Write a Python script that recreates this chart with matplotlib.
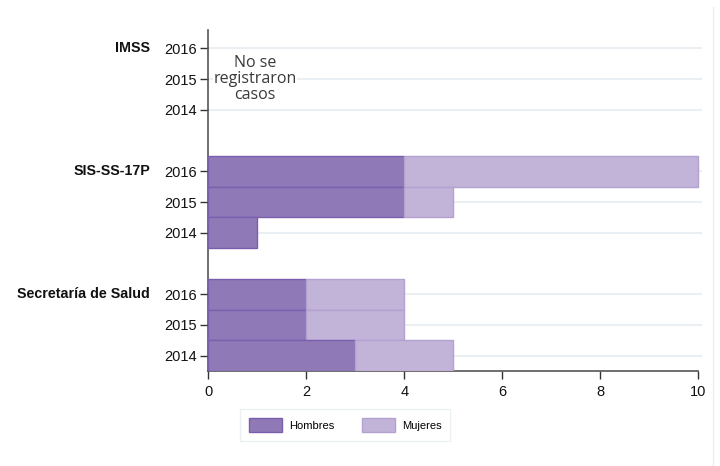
import matplotlib
matplotlib.use("Agg")
import matplotlib.pyplot as plt
from matplotlib.patches import Patch
from matplotlib.lines import Line2D
from matplotlib.transforms import blended_transform_factory

# data
groups = ['IMSS', 'SIS-SS-17P', 'Secretaría de Salud']
years = ['2016', '2015', '2014']
hombres = {'IMSS': [0, 0, 0], 'SIS-SS-17P': [4, 4, 1], 'Secretaría de Salud': [2, 2, 3]}
mujeres = {'IMSS': [0, 0, 0], 'SIS-SS-17P': [6, 1, 0], 'Secretaría de Salud': [2, 2, 2]}
empty_note = 'No se\nregistraron\ncasos'
x_ticks = [0, 2, 4, 6, 8, 10]

c_h = '#8f79b6'
c_h_edge = '#7b5faf'
c_m = '#c2b3d9'
c_m_edge = '#b3a1d1'
grid_c = '#e9eff2'

plt.rcParams['font.family'] = ['Liberation Sans', 'DejaVu Sans']

fig = plt.figure(figsize=(7.2, 4.66), dpi=100)
ax = fig.add_axes([0.2889, 0.2039, 0.686, 0.7317])
lab_tr = blended_transform_factory(fig.transFigure, ax.transData)

pos = []
labels = []
i = 0
for g in groups:
    for k, y in enumerate(years):
        h = hombres[g][k]
        m = mujeres[g][k]
        if h > 0:
            ax.barh(i, h, height=1.0, color=c_h, edgecolor=c_h_edge, linewidth=1, zorder=3)
        if m > 0:
            ax.barh(i, m, left=h, height=1.0, color=c_m, edgecolor=c_m_edge, linewidth=1, zorder=3)
        pos.append(i)
        labels.append(y)
        if k == 0:
            ax.text(150 / 720, i, g, transform=lab_tr, ha='right', va='center',
                    fontsize=10.3, fontweight='bold', color='#111111')
        i += 1
    i += 1

for p in pos:
    ax.axhline(p, color=grid_c, lw=1.5, zorder=1)

ax.set_ylim(10.5, -0.6)
ax.set_xlim(0, 10.07)
ax.set_yticks(pos)
ax.set_yticklabels(labels, fontsize=10.5, color='#111111')
ax.set_xticks(x_ticks)
ax.set_xticklabels([str(v) for v in x_ticks], fontsize=10.5, color='#111111')
ax.tick_params(axis='y', length=6, width=1, color='#333333', pad=2)
ax.tick_params(axis='x', length=6, width=1, color='#333333', pad=4)
for s in ['top', 'right']:
    ax.spines[s].set_visible(False)
for s in ['left', 'bottom']:
    ax.spines[s].set_color('#555555')
    ax.spines[s].set_linewidth(1.2)
ax.spines['bottom'].set_bounds(0, 10)

# note for the group without cases
ax.text(0.96, 1, empty_note, ha='center', va='center', fontsize=11.5,
        color='#3a3a3a', family=['Open Sans', 'DejaVu Sans'], linespacing=1.0,
        zorder=4, bbox=dict(facecolor='white', edgecolor='none', pad=0.5))

handles = [Patch(facecolor=c_h, edgecolor=c_h_edge, label='Hombres'),
           Patch(facecolor=c_m, edgecolor=c_m_edge, label='Mujeres')]
leg = fig.legend(handles=handles, ncol=2, loc='center', bbox_to_anchor=(345 / 720, 1 - 425 / 466),
                 fontsize=8, handlelength=3.0, handleheight=1.6, columnspacing=2.5,
                 handletextpad=0.6, frameon=True, fancybox=False, borderpad=0.8)
leg.get_frame().set_edgecolor('#e6eef0')
leg.get_frame().set_linewidth(1)

fig.add_artist(Line2D([713 / 720, 713 / 720], [0, 1 - 7 / 466], color='#eeeeee', lw=1))

fig.savefig('out.png', dpi=100)
